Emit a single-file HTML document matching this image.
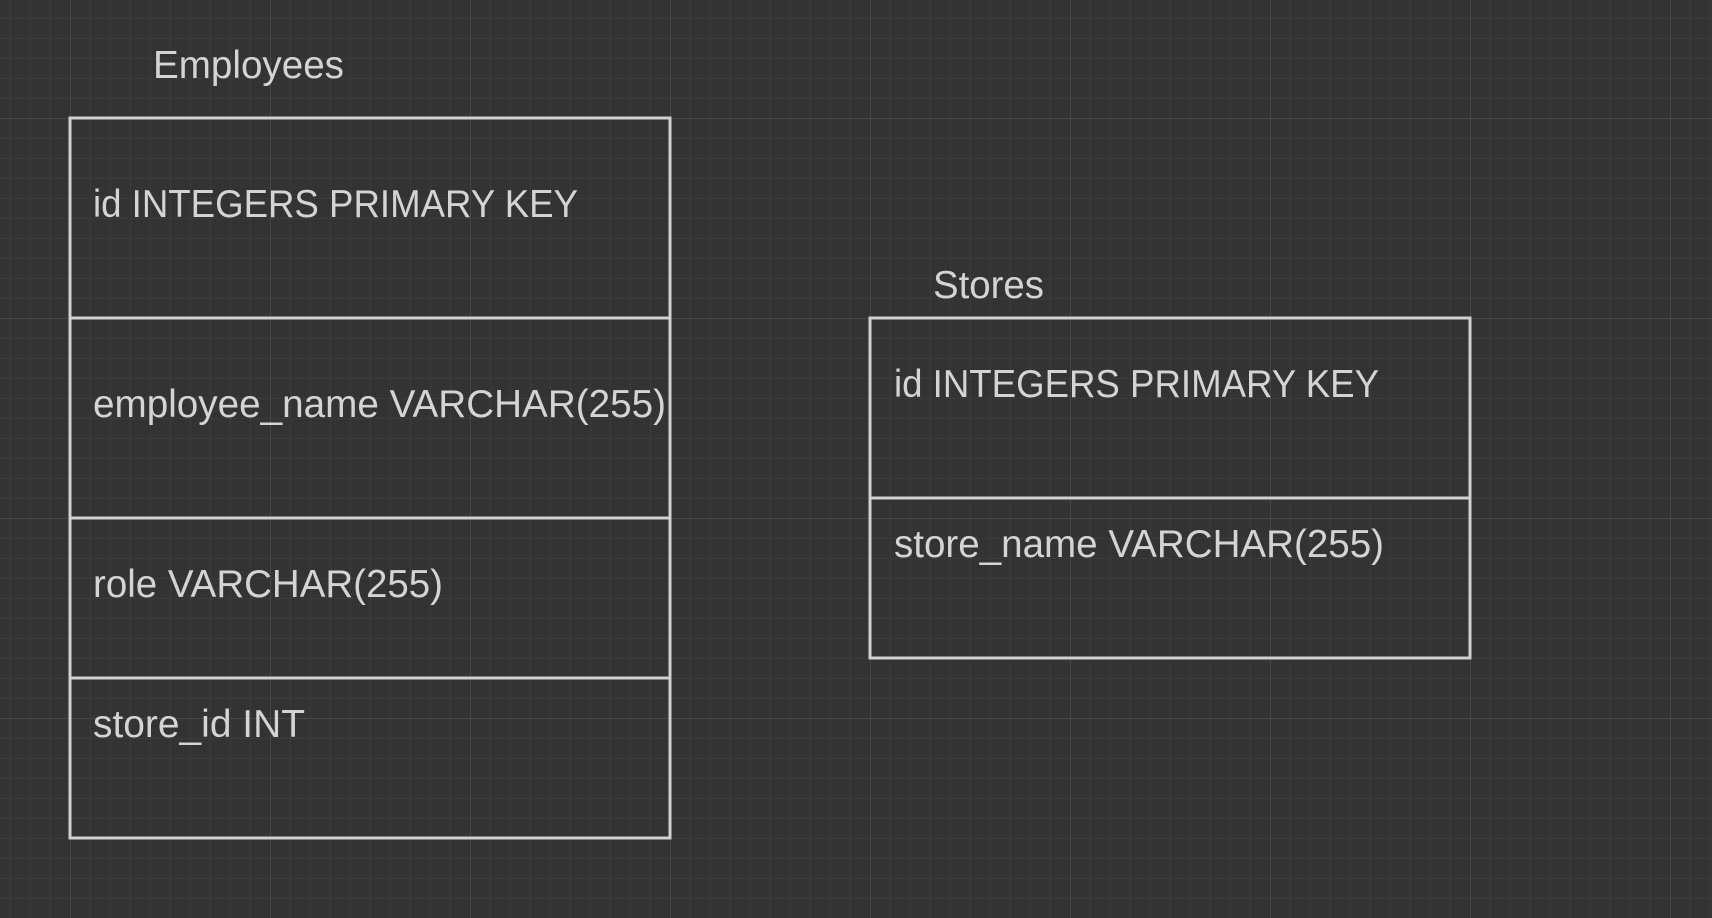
<!DOCTYPE html>
<html><head><meta charset="utf-8"><style>
html,body{margin:0;padding:0;background:#333;}
svg{display:block}
text{font-family:"Liberation Sans",sans-serif;font-size:39px;fill:#d4d4d4;}
</style></head><body>
<svg width="1712" height="918" viewBox="0 0 1712 918" xmlns="http://www.w3.org/2000/svg">
<defs>
<pattern id="minor" x="10" y="18" width="20" height="20" patternUnits="userSpaceOnUse">
<path d="M0 0H20M0 0V20" stroke="#434343" stroke-width="1" fill="none"/>
</pattern>
<pattern id="major" x="70" y="118" width="200" height="200" patternUnits="userSpaceOnUse">
<path d="M0 0H200M0 0V200" stroke="#4d4d4d" stroke-width="1.5" fill="none"/>
</pattern>
</defs>
<rect width="1712" height="918" fill="#333"/>
<rect width="1712" height="918" fill="url(#minor)"/>
<rect width="1712" height="918" fill="url(#major)"/>

<g fill="none" stroke="#d0d0d0" stroke-width="3">
<rect x="70" y="118" width="600" height="720"/>
<line x1="70" y1="318" x2="670" y2="318"/>
<line x1="70" y1="518" x2="670" y2="518"/>
<line x1="70" y1="678" x2="670" y2="678"/>
<rect x="870" y="318" width="600" height="340"/>
<line x1="870" y1="498" x2="1470" y2="498"/>
</g>

<text x="153" y="78" textLength="191" lengthAdjust="spacingAndGlyphs">Employees</text>
<text x="93" y="217" textLength="485" lengthAdjust="spacingAndGlyphs">id INTEGERS PRIMARY KEY</text>
<text x="93" y="417" textLength="573" lengthAdjust="spacingAndGlyphs">employee_name VARCHAR(255)</text>
<text x="93" y="597" textLength="350" lengthAdjust="spacingAndGlyphs">role VARCHAR(255)</text>
<text x="93" y="737" textLength="212" lengthAdjust="spacingAndGlyphs">store_id INT</text>

<text x="933" y="298" textLength="111" lengthAdjust="spacingAndGlyphs">Stores</text>
<text x="894" y="397" textLength="485" lengthAdjust="spacingAndGlyphs">id INTEGERS PRIMARY KEY</text>
<text x="894" y="557" textLength="490" lengthAdjust="spacingAndGlyphs">store_name VARCHAR(255)</text>
</svg>
</body></html>
